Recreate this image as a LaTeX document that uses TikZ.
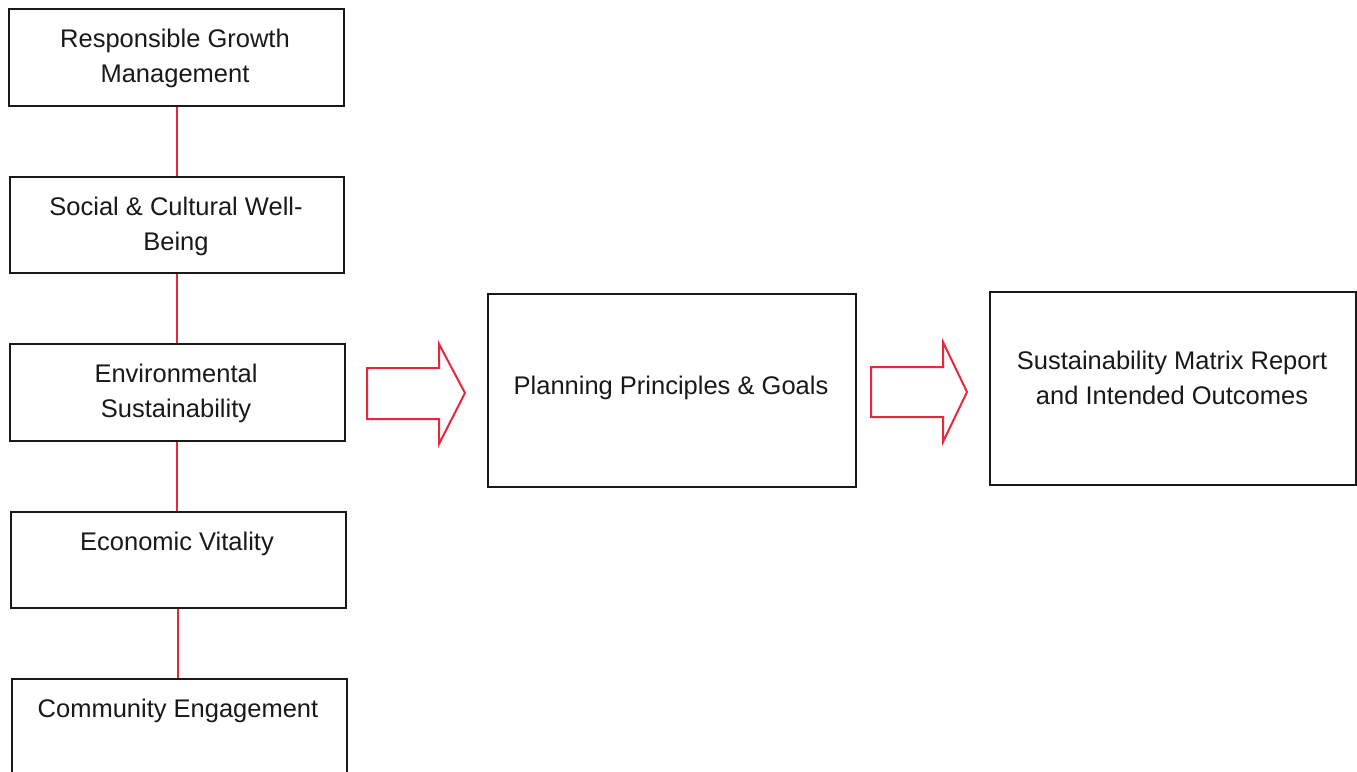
\documentclass[tikz,border=0pt]{standalone}
\usepackage{fontspec}
\setmainfont{Liberation Sans}
\definecolor{linkred}{RGB}{230,40,60}
\definecolor{ink}{RGB}{25,25,25}
\begin{document}
\begin{tikzpicture}[x=1pt,y=-1pt,
  box/.style={draw=ink,line width=2.2pt,rectangle,inner sep=0pt,anchor=north west},
  lbl/.style={text=ink,font=\fontsize{25.5}{35}\selectfont,align=center,inner sep=0pt},
  link/.style={draw=linkred,line width=2pt},
  blockarrow/.style={draw=linkred,line width=2pt,line join=miter,fill=white}]
\useasboundingbox (0,0) rectangle (1357,771);
\begin{scope}
\clip (0,0) rectangle (1357,771);
\node[box,minimum width=335pt,minimum height=97pt] (b1) at (8,8) {};
\node[box,minimum width=334pt,minimum height=96pt] (b2) at (9,176) {};
\node[box,minimum width=335pt,minimum height=97pt] (b3) at (9,343) {};
\node[box,minimum width=335pt,minimum height=96pt] (b4) at (10,511) {};
\node[box,minimum width=335pt,minimum height=110pt] (b5) at (11,678) {};
\node[box,minimum width=368pt,minimum height=193pt] (b6) at (487,293) {};
\node[box,minimum width=366pt,minimum height=193pt] (b7) at (989,291) {};
\end{scope}
\node[lbl] (t1) at (175,58) {Responsible Growth\\Management};
\node[lbl] (t2) at (176,226) {Social \& Cultural Well-\\Being};
\node[lbl] (t3) at (176,393) {Environmental\\Sustainability};
\node[lbl] (t4) at (177,544) {Economic Vitality};
\node[lbl] (t5) at (178,711) {Community Engagement};
\node[lbl] (t6) at (671,388) {Planning Principles \& Goals};
\node[lbl] (t7) at (1172,378) {Sustainability Matrix Report\\and Intended Outcomes};
\coordinate (colA) at (177,0);
\coordinate (colB) at (178,0);
\draw[link] (b1.south -| colA) -- (b2.north -| colA);
\draw[link] (b2.south -| colA) -- (b3.north -| colA);
\draw[link] (b3.south -| colA) -- (b4.north -| colA);
\draw[link] (b4.south -| colB) -- (b5.north -| colB);
\draw[blockarrow] (367,368) -- (439,368) -- (439,344) -- (465,393) -- (439,444) -- (439,419) -- (367,419) -- cycle;
\draw[blockarrow] (871,367) -- (943,367) -- (943,342) -- (967,392) -- (943,442) -- (943,417) -- (871,417) -- cycle;
\end{tikzpicture}
\end{document}
